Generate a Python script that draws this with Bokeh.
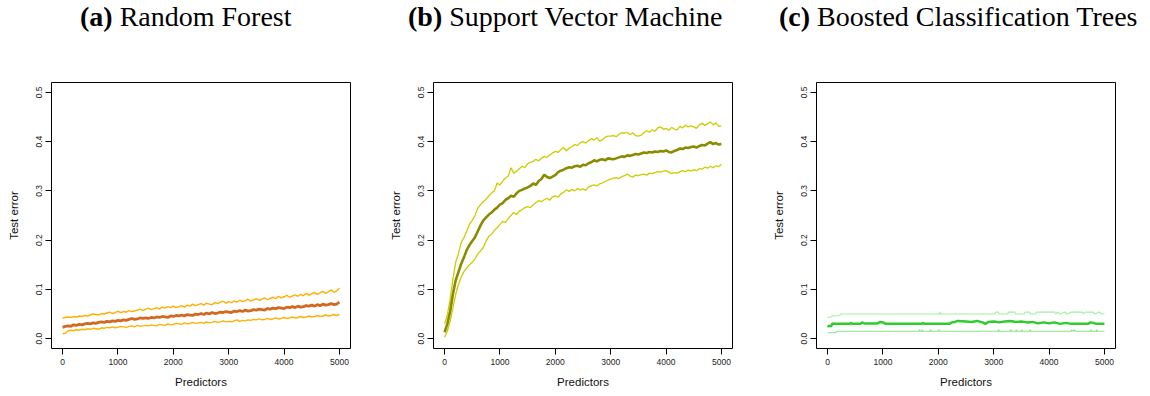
from bokeh.plotting import figure
from bokeh.layouts import row, column
from bokeh.models import Div, FixedTicker, NumeralTickFormatter
from bokeh.embed import file_html
from bokeh.resources import INLINE

# ---- data -------------------------------------------------------------
# predictor counts (step 50) for the random-forest and SVM curves
predictors = list(range(0, 5001, 50))

rf_upper = [0.042, 0.043, 0.044, 0.043, 0.045, 0.044, 0.046, 0.045, 0.047, 0.046,
            0.048, 0.050, 0.049, 0.048, 0.051, 0.050, 0.052, 0.054, 0.051, 0.053,
            0.056, 0.053, 0.055, 0.054, 0.057, 0.055, 0.056, 0.058, 0.060, 0.057,
            0.060, 0.062, 0.059, 0.061, 0.063, 0.060, 0.064, 0.062, 0.065, 0.063,
            0.066, 0.063, 0.065, 0.067, 0.064, 0.068, 0.066, 0.070, 0.067, 0.069,
            0.071, 0.068, 0.072, 0.070, 0.069, 0.073, 0.071, 0.074, 0.076, 0.072,
            0.075, 0.073, 0.076, 0.074, 0.078, 0.075, 0.077, 0.080, 0.076, 0.079,
            0.081, 0.078, 0.080, 0.083, 0.079, 0.082, 0.084, 0.081, 0.086, 0.083,
            0.085, 0.088, 0.084, 0.087, 0.089, 0.086, 0.090, 0.087, 0.092, 0.088,
            0.091, 0.094, 0.090, 0.093, 0.096, 0.092, 0.095, 0.099, 0.094, 0.097,
            0.103]
rf_mean = [0.023, 0.025, 0.026, 0.025, 0.028, 0.027, 0.029, 0.028, 0.030, 0.031,
           0.030, 0.032, 0.031, 0.033, 0.034, 0.033, 0.035, 0.034, 0.036, 0.035,
           0.037, 0.036, 0.038, 0.037, 0.039, 0.041, 0.039, 0.040, 0.042, 0.041,
           0.042, 0.041, 0.043, 0.042, 0.044, 0.043, 0.045, 0.044, 0.043, 0.046,
           0.045, 0.047, 0.046, 0.048, 0.046, 0.049, 0.048, 0.047, 0.050, 0.049,
           0.051, 0.049, 0.052, 0.050, 0.053, 0.051, 0.052, 0.054, 0.053, 0.055,
           0.054, 0.053, 0.056, 0.055, 0.057, 0.055, 0.058, 0.056, 0.057, 0.059,
           0.058, 0.060, 0.059, 0.058, 0.061, 0.060, 0.062, 0.061, 0.063, 0.062,
           0.061, 0.064, 0.063, 0.065, 0.063, 0.066, 0.064, 0.065, 0.067, 0.066,
           0.068, 0.066, 0.069, 0.067, 0.070, 0.068, 0.069, 0.071, 0.069, 0.070,
           0.074]
rf_lower = [0.010, 0.011, 0.016, 0.017, 0.016, 0.018, 0.017, 0.019, 0.018, 0.020,
            0.019, 0.021, 0.020, 0.019, 0.022, 0.021, 0.023, 0.022, 0.024, 0.022,
            0.023, 0.025, 0.024, 0.023, 0.025, 0.026, 0.024, 0.027, 0.025, 0.026,
            0.027, 0.026, 0.028, 0.027, 0.026, 0.029, 0.028, 0.027, 0.030, 0.028,
            0.029, 0.031, 0.030, 0.029, 0.032, 0.030, 0.031, 0.033, 0.031, 0.032,
            0.033, 0.031, 0.034, 0.032, 0.033, 0.035, 0.033, 0.034, 0.036, 0.034,
            0.035, 0.034, 0.036, 0.038, 0.035, 0.037, 0.036, 0.038, 0.037, 0.039,
            0.038, 0.040, 0.038, 0.039, 0.041, 0.039, 0.040, 0.042, 0.040, 0.041,
            0.043, 0.041, 0.042, 0.044, 0.042, 0.043, 0.045, 0.043, 0.044, 0.046,
            0.044, 0.045, 0.047, 0.045, 0.046, 0.048, 0.046, 0.047, 0.049, 0.047,
            0.049]

svm_upper = [0.030, 0.048, 0.080, 0.120, 0.155, 0.172, 0.195, 0.205, 0.218, 0.232,
             0.240, 0.250, 0.265, 0.272, 0.278, 0.283, 0.290, 0.296, 0.300, 0.316,
             0.312, 0.320, 0.326, 0.330, 0.347, 0.336, 0.340, 0.345, 0.350, 0.347,
             0.355, 0.358, 0.360, 0.364, 0.361, 0.366, 0.370, 0.368, 0.373, 0.377,
             0.380, 0.378, 0.384, 0.388, 0.381, 0.387, 0.390, 0.394, 0.392, 0.398,
             0.400, 0.397, 0.402, 0.406, 0.403, 0.408, 0.401, 0.404, 0.409, 0.411,
             0.411, 0.412, 0.410, 0.415, 0.418, 0.417, 0.419, 0.414, 0.418, 0.412,
             0.411, 0.413, 0.418, 0.422, 0.419, 0.424, 0.421, 0.428, 0.430, 0.425,
             0.427, 0.423, 0.429, 0.425, 0.424, 0.431, 0.428, 0.433, 0.430, 0.432,
             0.430, 0.427, 0.434, 0.437, 0.433, 0.436, 0.440, 0.434, 0.438, 0.431,
             0.432]
svm_mean = [0.013, 0.030, 0.055, 0.090, 0.118, 0.135, 0.152, 0.165, 0.180, 0.190,
            0.198, 0.206, 0.218, 0.230, 0.240, 0.246, 0.252, 0.256, 0.262, 0.266,
            0.272, 0.275, 0.282, 0.285, 0.290, 0.288, 0.295, 0.300, 0.302, 0.305,
            0.307, 0.310, 0.315, 0.312, 0.320, 0.324, 0.333, 0.328, 0.326, 0.329,
            0.332, 0.338, 0.341, 0.343, 0.346, 0.348, 0.347, 0.350, 0.351, 0.349,
            0.353, 0.352, 0.356, 0.358, 0.362, 0.360, 0.363, 0.364, 0.362, 0.366,
            0.365, 0.364, 0.366, 0.368, 0.370, 0.369, 0.372, 0.371, 0.373, 0.375,
            0.374, 0.376, 0.378, 0.377, 0.379, 0.378, 0.380, 0.379, 0.381, 0.380,
            0.382, 0.379, 0.378, 0.381, 0.383, 0.386, 0.385, 0.388, 0.387, 0.389,
            0.390, 0.388, 0.391, 0.393, 0.392, 0.396, 0.399, 0.395, 0.397, 0.394,
            0.395]
svm_lower = [0.003, 0.015, 0.035, 0.062, 0.090, 0.110, 0.125, 0.136, 0.143, 0.150,
             0.155, 0.162, 0.172, 0.178, 0.185, 0.198, 0.208, 0.212, 0.220, 0.225,
             0.232, 0.238, 0.236, 0.244, 0.250, 0.256, 0.252, 0.259, 0.262, 0.266,
             0.268, 0.266, 0.272, 0.276, 0.280, 0.278, 0.282, 0.285, 0.281, 0.288,
             0.290, 0.287, 0.294, 0.297, 0.302, 0.299, 0.303, 0.300, 0.305, 0.302,
             0.304, 0.301, 0.308, 0.310, 0.312, 0.310, 0.314, 0.316, 0.319, 0.322,
             0.324, 0.326, 0.327, 0.325, 0.329, 0.331, 0.334, 0.330, 0.328, 0.332,
             0.331, 0.333, 0.334, 0.332, 0.336, 0.335, 0.337, 0.339, 0.338, 0.340,
             0.341, 0.338, 0.335, 0.337, 0.336, 0.339, 0.341, 0.339, 0.342, 0.340,
             0.343, 0.341, 0.345, 0.344, 0.348, 0.346, 0.350, 0.347, 0.351, 0.349,
             0.354]

# boosted trees: mostly flat curves, listed at the points where they change
bt_upper_x = [0, 60, 100, 140, 200, 250, 2020, 2030, 2040, 3020, 3040, 3080, 3100,
              3250, 3270, 3380, 3400, 3550, 3570, 3650, 3670, 3750, 3770, 4100,
              4120, 4150, 4200, 4280, 4330, 4400, 4600, 4620, 4650, 4800, 4830,
              4900, 4950, 5000]
bt_upper = [0.043, 0.044, 0.047, 0.046, 0.047, 0.050, 0.050, 0.054, 0.050, 0.050,
            0.054, 0.054, 0.050, 0.050, 0.054, 0.054, 0.050, 0.050, 0.054, 0.054,
            0.050, 0.050, 0.054, 0.054, 0.050, 0.054, 0.050, 0.054, 0.050, 0.054,
            0.054, 0.050, 0.054, 0.054, 0.050, 0.054, 0.050, 0.051]
bt_mean_x = [0, 20, 70, 80, 400, 420, 440, 600, 620, 660, 900, 950, 1000, 1050,
             1700, 1720, 1740, 2200, 2250, 2300, 2350, 2500, 2600, 2700, 2800,
             2850, 2900, 3000, 3100, 3200, 3300, 3400, 3500, 3600, 3700, 3800,
             3900, 4000, 4100, 4200, 4300, 4400, 4700, 4750, 4800, 4850, 5000]
bt_mean = [0.027, 0.025, 0.026, 0.030, 0.030, 0.032, 0.030, 0.030, 0.033, 0.031,
           0.031, 0.034, 0.033, 0.030, 0.030, 0.032, 0.030, 0.030, 0.033, 0.034,
           0.036, 0.035, 0.034, 0.036, 0.033, 0.030, 0.034, 0.035, 0.033, 0.035,
           0.036, 0.034, 0.035, 0.033, 0.034, 0.031, 0.033, 0.031, 0.033, 0.030,
           0.032, 0.030, 0.030, 0.033, 0.032, 0.030, 0.030]
bt_lower_x = [0, 150, 170, 1650, 1660, 1680, 1700, 1710, 1720, 1850, 1860, 1870,
              2000, 2010, 2030, 3080, 3090, 3100, 3300, 3310, 3330, 3400, 3410,
              3420, 3500, 3510, 3520, 3650, 3660, 3670, 4400, 4410, 4430, 4460,
              4470, 4750, 4760, 4770, 4850, 4860, 4870, 5000]
bt_lower = [0.012, 0.012, 0.015, 0.015, 0.018, 0.015, 0.015, 0.018, 0.015, 0.015,
            0.018, 0.015, 0.015, 0.018, 0.015, 0.015, 0.018, 0.015, 0.015, 0.018,
            0.015, 0.015, 0.018, 0.015, 0.015, 0.018, 0.015, 0.015, 0.018, 0.015,
            0.015, 0.018, 0.015, 0.018, 0.015, 0.015, 0.018, 0.015, 0.015, 0.018,
            0.015, 0.015]

x_ticks = [0, 1000, 2000, 3000, 4000, 5000]
y_ticks = [0.0, 0.1, 0.2, 0.3, 0.4, 0.5]

TITLE_FONT = "Liberation Serif"
AXIS_FONT = "Liberation Sans"
CAPTION_H = 40


def make_panel(left, right, width):
    p = figure(width=width, height=396 - CAPTION_H, output_backend="svg",
               toolbar_location=None,
               x_range=(-200, 5200), y_range=(-0.02, 0.52),
               min_border_left=left, min_border_right=right,
               min_border_top=82 - CAPTION_H, min_border_bottom=48)
    p.grid.visible = False
    p.outline_line_color = "black"
    p.outline_line_width = 1
    p.background_fill_color = "white"
    p.border_fill_color = "white"

    for ax in (p.xaxis[0], p.yaxis[0]):
        ax.axis_line_color = "black"
        ax.major_tick_line_color = "black"
        ax.minor_tick_line_color = None
        ax.major_tick_out = 6
        ax.major_tick_in = 0
        ax.major_label_text_font = AXIS_FONT
        ax.major_label_text_font_size = "8.5px"
        ax.major_label_text_color = "#222222"
        ax.axis_label_text_font = AXIS_FONT
        ax.axis_label_text_font_size = "11.5px"
        ax.axis_label_text_font_style = "normal"
        ax.axis_label_text_color = "#111111"

    xa = p.xaxis[0]
    xa.ticker = FixedTicker(ticks=x_ticks)
    xa.formatter = NumeralTickFormatter(format="0")
    xa.bounds = (0, 5000)
    xa.major_label_standoff = 4
    xa.axis_label = "Predictors"
    xa.axis_label_standoff = 8

    ya = p.yaxis[0]
    ya.ticker = FixedTicker(ticks=y_ticks)
    ya.formatter = NumeralTickFormatter(format="0.0")
    ya.bounds = (0, 0.5)
    ya.major_label_orientation = "vertical"
    ya.major_label_standoff = 3
    ya.axis_label = "Test error"
    ya.axis_label_standoff = 14
    return p


def caption(tag, name, pad_left, width):
    # sub-figure caption: bold tag followed by the model name
    return Div(text=f"<b>{tag}</b> {name}", width=width, height=CAPTION_H,
               margin=(0, 0, 0, 0),
               styles={"font-family": TITLE_FONT, "font-size": "28px",
                       "line-height": "34px", "color": "black",
                       "padding-left": f"{pad_left}px", "white-space": "nowrap"})


pa = make_panel(51, 33, 383)
pa.line(predictors, rf_upper, line_color="#FFB000", line_width=1.4)
pa.line(predictors, rf_lower, line_color="#FFB000", line_width=1.4)
pa.line(predictors, rf_mean, line_color="#D2691E", line_width=2.8)

pb = make_panel(50, 34, 383)
pb.line(predictors, svm_upper, line_color="#CDCD00", line_width=1.3)
pb.line(predictors, svm_lower, line_color="#CDCD00", line_width=1.3)
pb.line(predictors, svm_mean, line_color="#8B8B00", line_width=2.6)

pc = make_panel(50, 35, 384)
pc.line(bt_upper_x, bt_upper, line_color="#A4F0A4", line_width=1.2)
pc.line(bt_lower_x, bt_lower, line_color="#86E486", line_width=1.2)
pc.line(bt_mean_x, bt_mean, line_color="#2ECC2E", line_width=2.5)

layout = row(
    column(caption("(a)", "Random Forest", 80, 383), pa, spacing=0),
    column(caption("(b)", "Support Vector Machine", 25, 383), pb, spacing=0),
    column(caption("(c)", "Boosted Classification Trees", 13, 384), pc, spacing=0),
    spacing=0,
)
open("out.html", "w").write(file_html(layout, INLINE))
